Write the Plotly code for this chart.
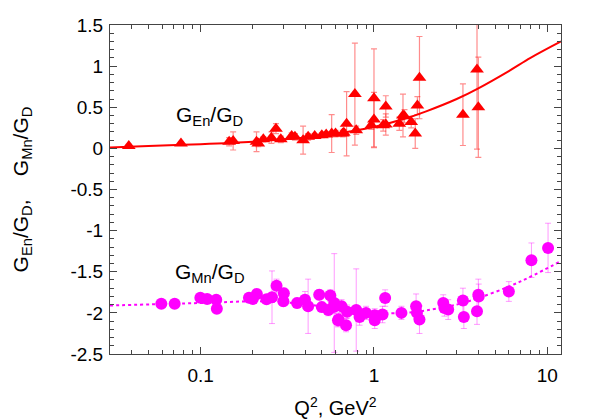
import plotly.graph_objects as go


# --------------------------------------------------
# G_En / G_D data (red triangles)
# --------------------------------------------------
en_q2 = [0.0385, 0.077, 0.146, 0.154, 0.21, 0.215, 0.23, 0.256, 0.272, 0.29,
         0.335, 0.35, 0.39, 0.417, 0.455, 0.5, 0.53, 0.57, 0.6, 0.66, 0.67,
         0.695, 0.776, 0.79, 0.965, 1.0, 1.0, 1.13, 1.17, 1.17, 1.40, 1.47,
         1.5, 1.64, 1.73, 1.78, 1.83, 3.26, 3.93, 4.0]
en_val = [0.03, 0.06, 0.08, 0.09, 0.08, 0.06, 0.11, 0.13, 0.24, 0.11,
          0.15, 0.14, 0.10, 0.14, 0.15, 0.16, 0.17, 0.18, 0.18, 0.18, 0.19,
          0.30, 0.66, 0.22, 0.28, 0.61, 0.35, 0.28, 0.51, 0.29, 0.30, 0.40,
          0.39, 0.32, 0.18, 0.52, 0.86, 0.41, 0.96, 0.50]
en_err = [0.02, 0.02, 0.05, 0.11, 0.12, 0.04, 0.03, 0.07, 0.06, 0.04,
          0.04, 0.04, 0.17, 0.04, 0.03, 0.03, 0.03, 0.23, 0.04, 0.04, 0.04,
          0.39, 0.62, 0.05, 0.05, 0.60, 0.33, 0.07, 0.13, 0.13, 0.08, 0.26,
          0.08, 0.07, 0.18, 0.11, 0.50, 0.375, 0.97, 0.61]

en_fit_q2 = [0.03, 0.05, 0.1, 0.2, 0.3, 0.5, 0.7, 1, 1.5, 2, 3, 4, 6, 8, 12]
en_fit_val = [0.01, 0.03, 0.05, 0.08, 0.11, 0.15, 0.20, 0.26, 0.36, 0.45,
              0.60, 0.73, 0.94, 1.10, 1.30]

# --------------------------------------------------
# G_Mn / G_D data (magenta circles)
# --------------------------------------------------
mn_q2 = [0.0593, 0.0708, 0.0996, 0.109, 0.123, 0.124, 0.19, 0.2, 0.211, 0.24,
         0.258, 0.274, 0.30, 0.302, 0.36, 0.40, 0.417, 0.483, 0.5, 0.545,
         0.56, 0.585, 0.59, 0.62, 0.625, 0.65, 0.69, 0.70, 0.79, 0.826,
         0.90, 1.01, 1.01, 1.12, 1.16, 1.44, 1.75, 1.77, 1.83, 2.51, 2.55,
         2.68, 3.26, 3.3, 3.93, 4.0, 4.02, 6.0, 8.1, 10.1]
mn_val = [-1.89, -1.89, -1.815, -1.83, -1.84, -1.95, -1.815, -1.83, -1.77, -1.835,
          -1.81, -1.67, -1.86, -1.76, -1.88, -1.84, -1.92, -1.78, -1.93, -1.965,
          -1.79, -1.93, -1.88, -2.09, -2.08, -1.92, -2.15, -1.985, -1.965, -2.05,
          -2.0, -2.03, -2.09, -2.02, -1.82, -2.0, -1.92, -2.0, -2.08, -1.88, -1.94,
          -1.96, -1.85, -2.05, -1.98, -1.78, -1.80, -1.74, -1.36, -1.21]
mn_err = [0.03, 0.03, 0.04, 0.04, 0.04, 0.05, 0.05, 0.05, 0.05, 0.05,
          0.32, 0.08, 0.06, 0.06, 0.06, 0.10, 0.33, 0.06, 0.06, 0.07,
          0.07, 0.08, 0.60, 0.08, 0.08, 0.08, 0.08, 0.08, 0.50, 0.10,
          0.08, 0.08, 0.10, 0.10, 0.10, 0.08, 0.15, 0.10, 0.17, 0.10, 0.10,
          0.12, 0.15, 0.14, 0.16, 0.19, 0.15, 0.12, 0.21, 0.30]

mn_fit_q2 = [0.03, 0.1, 0.2, 0.3, 0.5, 0.7, 1, 1.5, 2, 3, 4, 6, 8, 12]
mn_fit_val = [-1.91, -1.88, -1.86, -1.87, -1.92, -1.96, -2.0, -2.0, -1.97,
              -1.90, -1.82, -1.68, -1.56, -1.37]

# tick labels
x_ticks = [0.1, 1, 10]
x_labels = ["0.1", "1", "10"]
y_ticks = [1.5, 1, 0.5, 0, -0.5, -1, -1.5, -2, -2.5]
y_labels = ["1.5", "1", "0.5", "0", "-0.5", "-1", "-1.5", "-2", "-2.5"]

FONT = "Liberation Sans, Arial, Helvetica, sans-serif"

fig = go.Figure()

fig.add_trace(go.Scatter(
    x=en_fit_q2, y=en_fit_val, mode="lines",
    line=dict(color="#ff0000", width=2, shape="spline"),
    showlegend=False
))

fig.add_trace(go.Scatter(
    x=mn_fit_q2, y=mn_fit_val, mode="lines",
    line=dict(color="#ff00ff", width=2, dash="dot", shape="spline"),
    showlegend=False
))

fig.add_trace(go.Scatter(
    x=en_q2, y=en_val, mode="markers",
    marker=dict(symbol="triangle-up", size=12, color="#ff0000"),
    error_y=dict(type="data", array=en_err, color="rgba(255,0,0,0.45)",
                 thickness=1.2, width=3),
    showlegend=False
))

fig.add_trace(go.Scatter(
    x=mn_q2, y=mn_val, mode="markers",
    marker=dict(symbol="circle", size=12, color="#ff00ff"),
    error_y=dict(type="data", array=mn_err, color="rgba(255,0,255,0.4)",
                 thickness=1, width=3),
    showlegend=False
))

fig.add_annotation(
    x=-0.948, y=0.39, xref="x", yref="y", showarrow=False,
    text="G<sub>En</sub>/G<sub>D</sub>", font=dict(size=21, color="black")
)
fig.add_annotation(
    x=-0.948, y=-1.51, xref="x", yref="y", showarrow=False,
    text="G<sub>Mn</sub>/G<sub>D</sub>", font=dict(size=21, color="black")
)

fig.update_layout(
    width=598, height=419,
    margin=dict(l=102, r=45, t=17, b=73, autoexpand=False),
    paper_bgcolor="white", plot_bgcolor="white",
    font=dict(family=FONT, size=19, color="black"),
    xaxis=dict(
        type="log", range=[-1.523, 1.079],
        tickvals=x_ticks, ticktext=x_labels,
        ticks="inside", ticklen=7, tickcolor="#444",
        ticklabelstandoff=4,
        minor=dict(ticks="inside", ticklen=4, dtick="D1", tickcolor="#444",
                   showgrid=False),
        showline=True, linecolor="#444", linewidth=1, mirror="ticks",
        showgrid=False, zeroline=False, automargin=False,
        title=dict(text="Q<sup>2</sup>, GeV<sup>2</sup>", standoff=16,
                   font=dict(size=20)),
    ),
    yaxis=dict(
        range=[-2.5, 1.5],
        tickvals=y_ticks, ticktext=y_labels,
        ticks="inside", ticklen=7, tickcolor="#444",
        ticklabelstandoff=2,
        minor=dict(ticks="inside", ticklen=4, dtick=0.1, tickcolor="#444",
                   showgrid=False),
        showline=True, linecolor="#444", linewidth=1, mirror="ticks",
        showgrid=False, zeroline=False, automargin=False,
        title=dict(text="G<sub>En</sub>/G<sub>D</sub>,&nbsp;&nbsp;&nbsp;&nbsp;"
                        "G<sub>Mn</sub>/G<sub>D</sub>",
                   standoff=36, font=dict(size=21)),
    ),
)

fig.write_html("out.html")
